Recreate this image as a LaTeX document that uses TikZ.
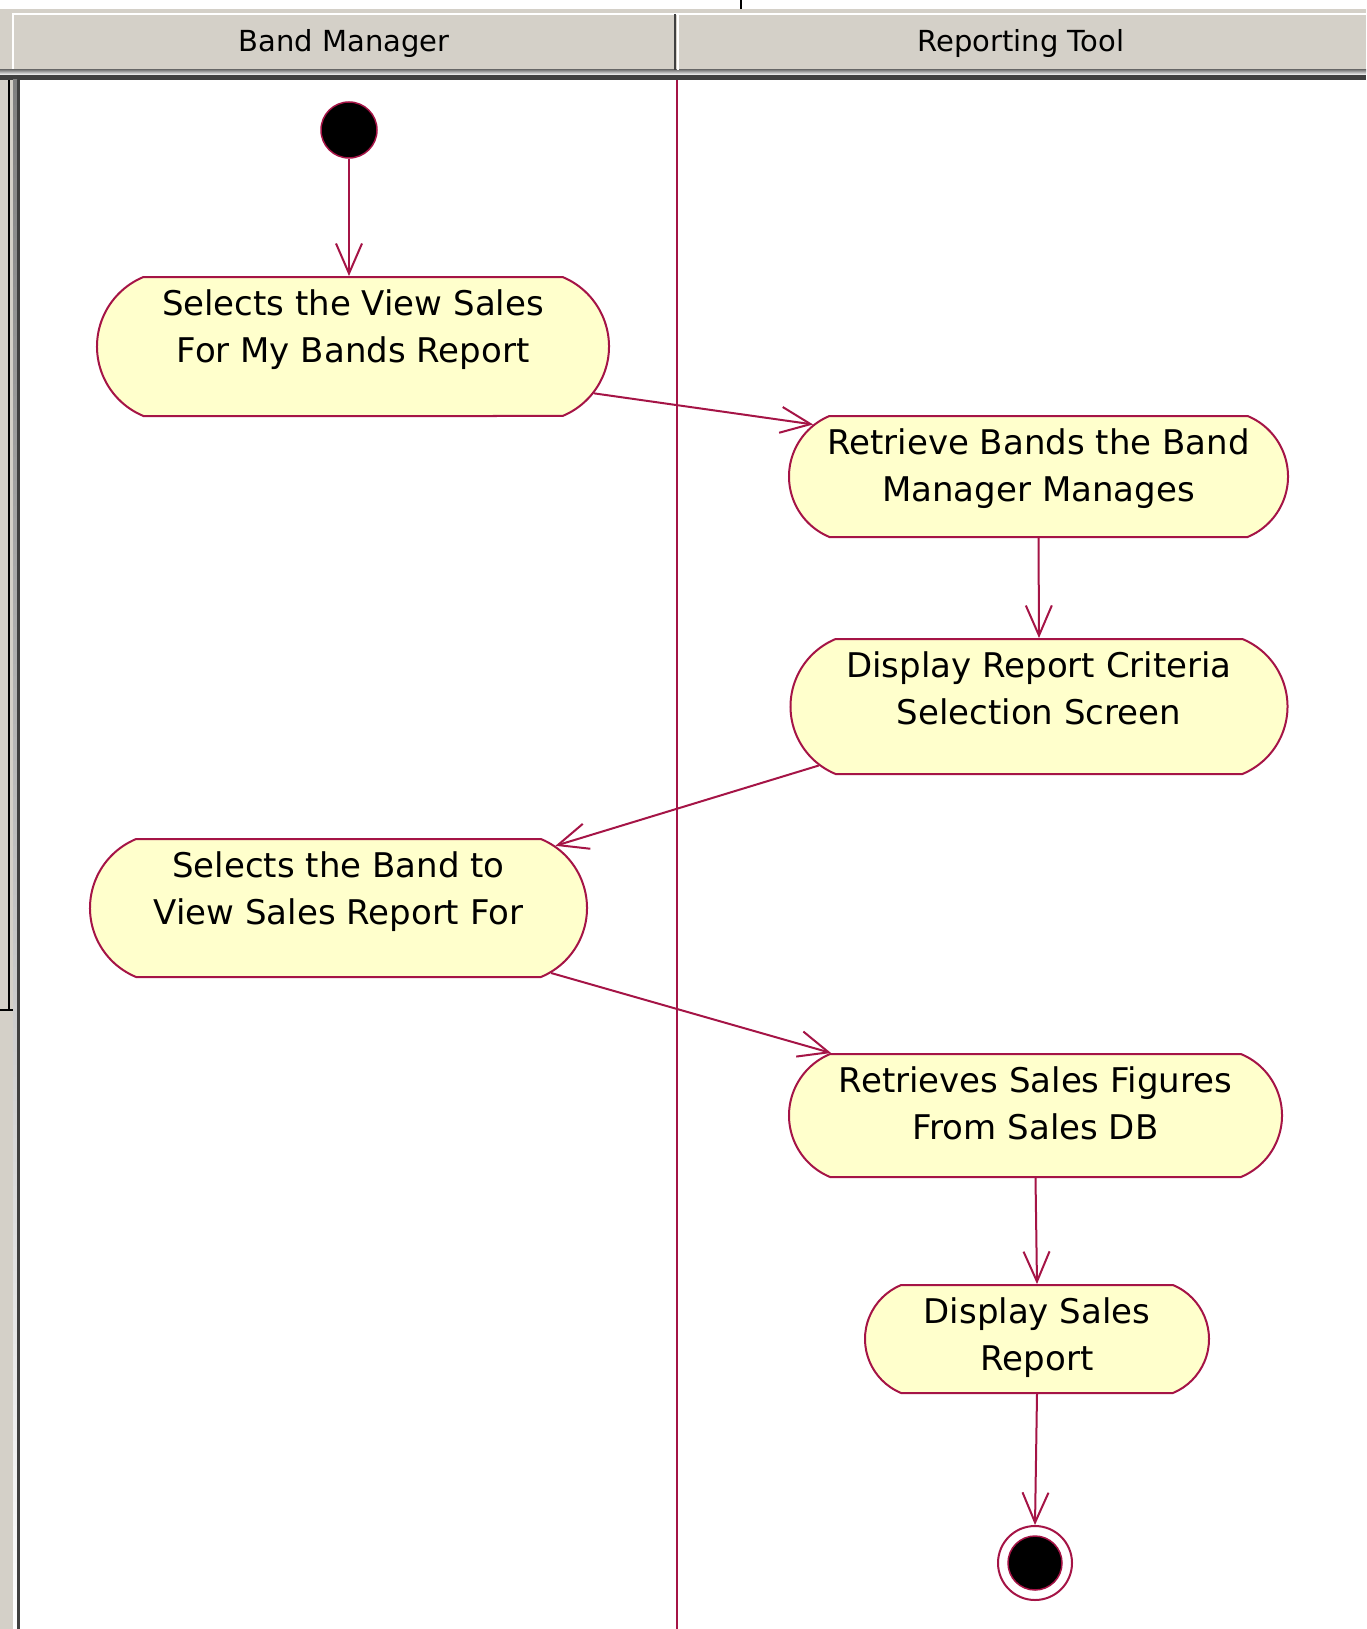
\documentclass[tikz,border=0pt]{standalone}
\usepackage{fontspec}
\setmainfont{DejaVu Sans}
\usetikzlibrary{shapes.misc,arrows.meta}
\definecolor{flow}{RGB}{165,20,70}
\definecolor{actfill}{RGB}{255,255,204}
\definecolor{panel}{RGB}{212,208,200}
\definecolor{shade}{RGB}{128,128,128}
\definecolor{darkshade}{RGB}{64,64,64}

\begin{document}
\begin{tikzpicture}[x=1pt,y=-1pt,
  activity/.style={rounded rectangle, rounded rectangle arc length=135,
    draw=flow, line width=2pt, fill=actfill, inner sep=0pt},
  caption/.style={font=\fontsize{34}{47}\selectfont, align=center,
    inner sep=0pt, anchor=north},
  flowarrow/.style={draw=flow, line width=2pt,
    -{Straight Barb[length=30pt,width=26pt,line width=2pt]}},
  lanehead/.style={font=\fontsize{29}{35}\selectfont, inner sep=0pt},
  solid dot/.style={circle, fill=black, draw=flow, line width=1.5pt, inner sep=0pt}
]
\useasboundingbox (0,0) rectangle (1366,1629);
\fill[white] (0,0) rectangle (1366,1629);

% swimlane header bar
\fill[panel] (0,9) rectangle (1366,80);
\draw[white, line width=2pt] (12,14) -- (1366,14);
\draw[white, line width=2pt] (13,14) -- (13,70);
\fill[shade] (0,70) rectangle (1366,75);
\fill[darkshade] (0,75) rectangle (1366,80);
\draw[darkshade, line width=2pt] (675,14) -- (675,70);
\draw[white, line width=2pt] (678,14) -- (678,70);
\draw[shade, line width=1.5pt] (741,0) -- (741,9);
\node[lanehead] (lane1) at (344,44) {Band Manager};
\node[lanehead] (lane2) at (1021,44) {Reporting Tool};

% left frame strip
\fill[panel] (0,80) rectangle (20,1629);
\draw[shade, line width=1.5pt] (9,80) -- (9,1010);
\draw[shade, line width=1.5pt] (0,1010) -- (13,1010);
\fill[shade] (13,80) rectangle (17,1629);
\fill[darkshade] (17,80) rectangle (20,1629);

% lane separator
\draw[flow, line width=2.5pt] (677,80) -- (677,1629);

% activities
\node[activity, minimum width=512pt, minimum height=139pt] (n1) at (353,346.5) {};
\node[caption] (c1) at ([yshift=-13pt]n1.north) {Selects the View Sales\\For My Bands Report};

\node[activity, minimum width=499pt, minimum height=121pt] (n2) at (1038.5,476.5) {};
\node[caption] (c2) at ([yshift=-13pt]n2.north) {Retrieve Bands the Band\\Manager Manages};

\node[activity, minimum width=497pt, minimum height=135pt] (n3) at (1039,706.5) {};
\node[caption] (c3) at ([yshift=-13pt]n3.north) {Display Report Criteria\\Selection Screen};

\node[activity, minimum width=497pt, minimum height=138pt] (n4) at (338.5,908) {};
\node[caption] (c4) at ([yshift=-13pt]n4.north) {Selects the Band to\\View Sales Report For};

\node[activity, minimum width=493pt, minimum height=123pt] (n5) at (1035.5,1115.5) {};
\node[caption] (c5) at ([yshift=-13pt]n5.north) {Retrieves Sales Figures\\From Sales DB};

\node[activity, minimum width=344pt, minimum height=108pt] (n6) at (1037,1339) {};
\node[caption] (c6) at ([yshift=-13pt]n6.north) {Display Sales\\Report};

% initial and final states
\node[solid dot, minimum size=56pt] (start) at (349,130) {};
\node[circle, draw=flow, fill=white, line width=2pt, minimum size=74pt, inner sep=0pt] (stop) at (1035,1563) {};
\node[solid dot, minimum size=54pt] (stopdot) at (stop) {};

% transitions
\draw[flowarrow] (start) -- (start |- n1.north);
\draw[flowarrow] (n1.-11) -- (n2.167.7);
\draw[flowarrow] (n2.south) -- (n3.north);
\draw[flowarrow] (n3.195.7) -- (n4.16.3);
\draw[flowarrow] (n4.-17.3) -- (n5.163.1);
\draw[flowarrow] (n5.south) -- (n6.north);
\draw[flowarrow] (n6.south) -- (stop.north);
\end{tikzpicture}
\end{document}
